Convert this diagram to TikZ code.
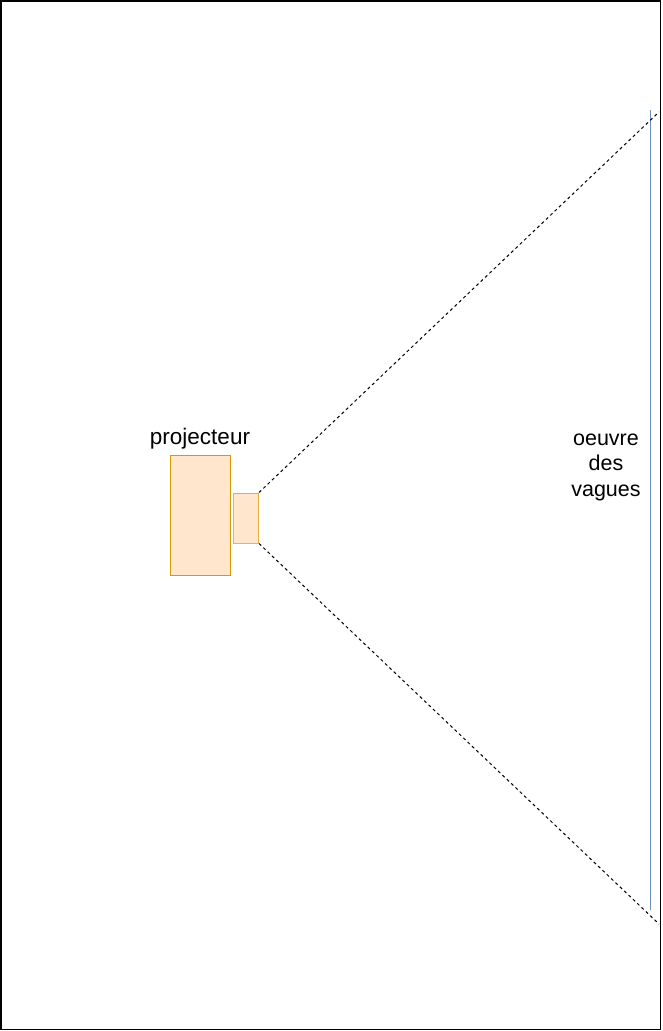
\documentclass[tikz,border=0pt]{standalone}
\usepackage{fontspec}
\setmainfont{Liberation Sans}
\definecolor{orfill}{HTML}{FFE6CC}
\definecolor{ordraw}{HTML}{D79B00}
\definecolor{bluedraw}{HTML}{6C8EBF}
\begin{document}
\begin{tikzpicture}[x=1pt,y=-1pt,
  box/.style={draw=ordraw,fill=orfill,line width=1pt},
  beam/.style={draw=black,line width=1pt,dash pattern=on 3pt off 3pt},
  lbl/.style={font=\fontsize{22.5}{26}\selectfont,inner sep=0pt,anchor=base},
  rlbl/.style={font=\fontsize{21.5}{26}\selectfont,inner sep=0pt,anchor=base}]
\useasboundingbox (0,0) rectangle (663,1031);
\draw[line width=1.5pt] (0.75,0.75) rectangle (660.5,1029.5);
\node[box,minimum width=60pt,minimum height=120pt,inner sep=0pt,anchor=north west] (body) at (170,455) {};
\node[box,draw opacity=0.7,minimum width=25pt,minimum height=50pt,inner sep=0pt,anchor=north west] (lens) at (233,492.5) {};
\coordinate (screentop) at (650,110);
\coordinate (screenbot) at (650,910);
\draw[bluedraw,line width=1pt] (screentop) -- (screenbot);
\coordinate (beamtop) at (659,112);
\coordinate (beambot) at (659,924);
\draw[beam] (lens.north east) -- (beamtop);
\draw[beam] (lens.south east) -- (beambot);
\node[lbl] (ptitle) at (200,444) {projecteur};
\node[rlbl] (w1) at (606,445) {oeuvre};
\node[rlbl] (w2) at (606,470.5) {des};
\node[rlbl] (w3) at (606,496) {vagues};
\end{tikzpicture}
\end{document}
